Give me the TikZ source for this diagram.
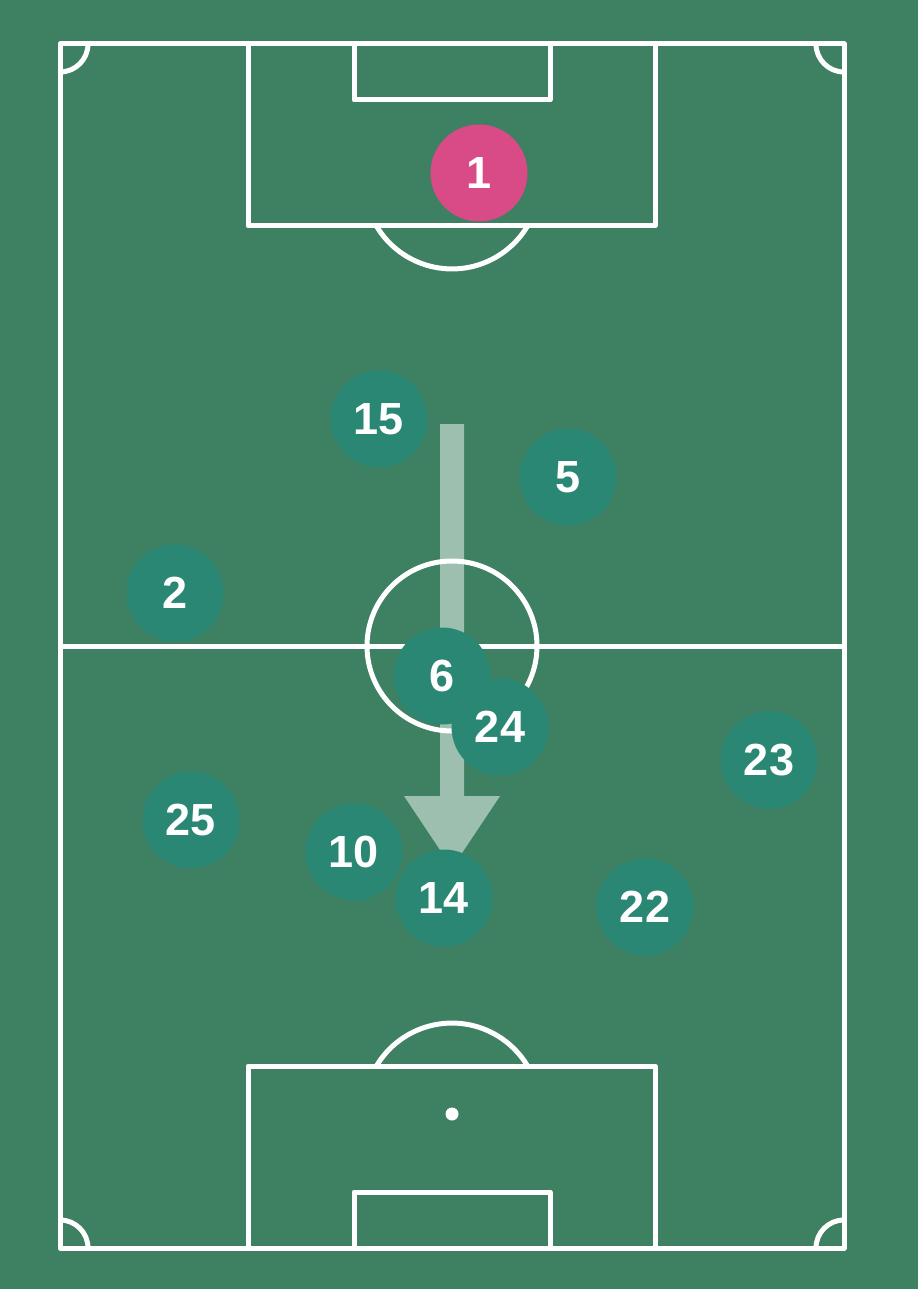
\documentclass[tikz,border=0pt]{standalone}
\usepackage{fontspec}
\setmainfont{Liberation Sans}
\definecolor{grass}{HTML}{3E8062}
\definecolor{shirt}{HTML}{298774}
\definecolor{keeper}{HTML}{D94B86}
\definecolor{runarrow}{HTML}{9DBFB0}
\tikzset{
  chalk/.style={draw=white,line width=5pt,line join=round},
  player/.style={circle,fill=shirt,minimum size=97pt,inner sep=0pt,
    text=white,font=\fontsize{45}{45}\bfseries\selectfont}
}
\begin{document}
\begin{tikzpicture}[x=1pt,y=-1pt]
\fill[grass] (0,0) rectangle (918,1289);
\useasboundingbox (0,0) rectangle (918,1289);
% run of play
\fill[runarrow] (440,424) -- (464,424) -- (464,796) -- (500,796) -- (452,868)
  -- (404,796) -- (440,796) -- cycle;
% pitch
\draw[chalk] (60,44) rectangle (844,1248);
\draw[chalk] (60,646) -- (844,646);
\draw[chalk] (452,646) circle (85);
\draw[chalk] (248,44) rectangle (655,226);
\draw[chalk] (354,44) rectangle (550,100);
\draw[chalk] (248,1248) rectangle (655,1066);
\draw[chalk] (354,1248) rectangle (550,1192);
\fill[white] (452,1114) circle (6.5);
\draw[chalk] (376.4,226) arc(149.2:30.8:88);
\draw[chalk] (376.4,1066) arc(210.8:329.2:88);
% corners
\draw[chalk] (88,44) arc(0:90:28);
\draw[chalk] (816,44) arc(180:90:28);
\draw[chalk] (88,1248) arc(0:-90:28);
\draw[chalk] (816,1248) arc(180:270:28);
% players
\node[player,fill=keeper] (p1) at (479,173) {1};
\node[player] (p15) at (379,419) {15};
\node[player] (p5) at (568,477) {5};
\node[player] (p2) at (175,593) {2};
\node[player] (p6) at (442,676) {6};
\node[player] (p24) at (500,727) {24};
\node[player] (p23) at (769,760) {23};
\node[player] (p25) at (191,820) {25};
\node[player] (p10) at (354,852) {10};
\node[player] (p14) at (444,898) {14};
\node[player] (p22) at (645,907) {22};
\end{tikzpicture}
\end{document}
